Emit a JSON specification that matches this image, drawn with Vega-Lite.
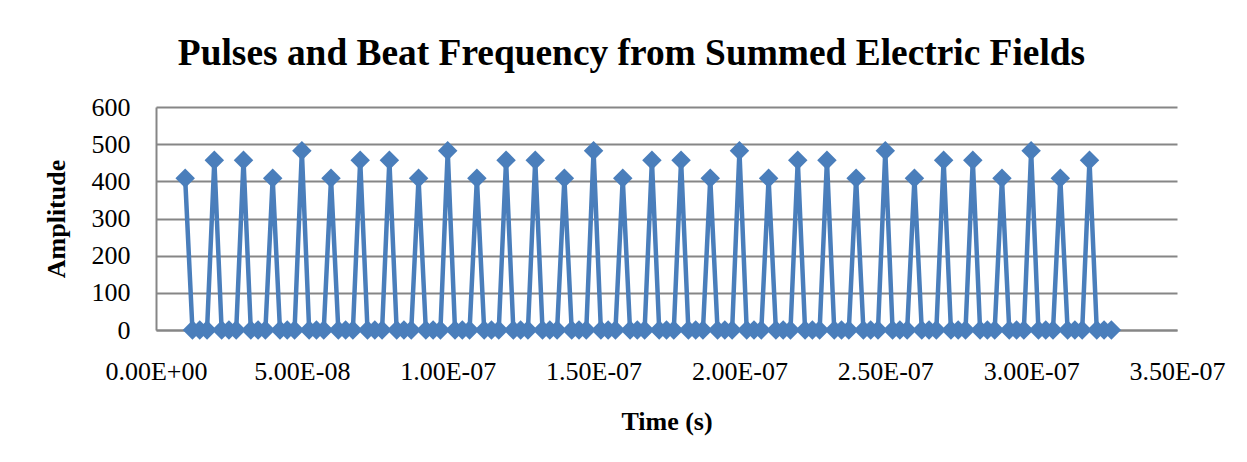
{
  "$schema": "https://vega.github.io/schema/vega-lite/v6.json",
  "width": 1021,
  "height": 223,
  "autosize": {"type": "none"},
  "padding": {"left": 156, "top": 107, "right": 70, "bottom": 132},
  "background": "white",
  "title": {
    "text": "Pulses and Beat Frequency from Summed Electric Fields",
    "font": "Liberation Serif",
    "fontSize": 37.4,
    "fontWeight": "bold",
    "color": "black",
    "anchor": "middle",
    "dx": -35,
    "dy": 50,
    "baseline": "alphabetic",
    "offset": 42
  },
  "config": {
    "view": {"stroke": null},
    "axis": {
      "labelFont": "Liberation Serif",
      "labelFontSize": 26,
      "labelColor": "black",
      "titleFont": "Liberation Serif",
      "titleFontSize": 26,
      "titleFontWeight": "bold",
      "titleColor": "black",
      "domainColor": "#868686",
      "domainWidth": 2,
      "gridColor": "#868686",
      "gridWidth": 2,
      "ticks": false
    }
  },
  "data": {
    "values": [
      {"t": 10e-9, "a": 408}, {"t": 12.5e-9, "a": 0}, {"t": 15e-9, "a": 0}, {"t": 17.5e-9, "a": 0},
      {"t": 20e-9, "a": 457}, {"t": 22.5e-9, "a": 0}, {"t": 25e-9, "a": 0}, {"t": 27.5e-9, "a": 0},
      {"t": 30e-9, "a": 457}, {"t": 32.5e-9, "a": 0}, {"t": 35e-9, "a": 0}, {"t": 37.5e-9, "a": 0},
      {"t": 40e-9, "a": 408}, {"t": 42.5e-9, "a": 0}, {"t": 45e-9, "a": 0}, {"t": 47.5e-9, "a": 0},
      {"t": 50e-9, "a": 482}, {"t": 52.5e-9, "a": 0}, {"t": 55e-9, "a": 0}, {"t": 57.5e-9, "a": 0},
      {"t": 60e-9, "a": 408}, {"t": 62.5e-9, "a": 0}, {"t": 65e-9, "a": 0}, {"t": 67.5e-9, "a": 0},
      {"t": 70e-9, "a": 457}, {"t": 72.5e-9, "a": 0}, {"t": 75e-9, "a": 0}, {"t": 77.5e-9, "a": 0},
      {"t": 80e-9, "a": 457}, {"t": 82.5e-9, "a": 0}, {"t": 85e-9, "a": 0}, {"t": 87.5e-9, "a": 0},
      {"t": 90e-9, "a": 408}, {"t": 92.5e-9, "a": 0}, {"t": 95e-9, "a": 0}, {"t": 97.5e-9, "a": 0},
      {"t": 100e-9, "a": 482}, {"t": 102.5e-9, "a": 0}, {"t": 105e-9, "a": 0}, {"t": 107.5e-9, "a": 0},
      {"t": 110e-9, "a": 408}, {"t": 112.5e-9, "a": 0}, {"t": 115e-9, "a": 0}, {"t": 117.5e-9, "a": 0},
      {"t": 120e-9, "a": 457}, {"t": 122.5e-9, "a": 0}, {"t": 125e-9, "a": 0}, {"t": 127.5e-9, "a": 0},
      {"t": 130e-9, "a": 457}, {"t": 132.5e-9, "a": 0}, {"t": 135e-9, "a": 0}, {"t": 137.5e-9, "a": 0},
      {"t": 140e-9, "a": 408}, {"t": 142.5e-9, "a": 0}, {"t": 145e-9, "a": 0}, {"t": 147.5e-9, "a": 0},
      {"t": 150e-9, "a": 482}, {"t": 152.5e-9, "a": 0}, {"t": 155e-9, "a": 0}, {"t": 157.5e-9, "a": 0},
      {"t": 160e-9, "a": 408}, {"t": 162.5e-9, "a": 0}, {"t": 165e-9, "a": 0}, {"t": 167.5e-9, "a": 0},
      {"t": 170e-9, "a": 457}, {"t": 172.5e-9, "a": 0}, {"t": 175e-9, "a": 0}, {"t": 177.5e-9, "a": 0},
      {"t": 180e-9, "a": 457}, {"t": 182.5e-9, "a": 0}, {"t": 185e-9, "a": 0}, {"t": 187.5e-9, "a": 0},
      {"t": 190e-9, "a": 408}, {"t": 192.5e-9, "a": 0}, {"t": 195e-9, "a": 0}, {"t": 197.5e-9, "a": 0},
      {"t": 200e-9, "a": 482}, {"t": 202.5e-9, "a": 0}, {"t": 205e-9, "a": 0}, {"t": 207.5e-9, "a": 0},
      {"t": 210e-9, "a": 408}, {"t": 212.5e-9, "a": 0}, {"t": 215e-9, "a": 0}, {"t": 217.5e-9, "a": 0},
      {"t": 220e-9, "a": 457}, {"t": 222.5e-9, "a": 0}, {"t": 225e-9, "a": 0}, {"t": 227.5e-9, "a": 0},
      {"t": 230e-9, "a": 457}, {"t": 232.5e-9, "a": 0}, {"t": 235e-9, "a": 0}, {"t": 237.5e-9, "a": 0},
      {"t": 240e-9, "a": 408}, {"t": 242.5e-9, "a": 0}, {"t": 245e-9, "a": 0}, {"t": 247.5e-9, "a": 0},
      {"t": 250e-9, "a": 482}, {"t": 252.5e-9, "a": 0}, {"t": 255e-9, "a": 0}, {"t": 257.5e-9, "a": 0},
      {"t": 260e-9, "a": 408}, {"t": 262.5e-9, "a": 0}, {"t": 265e-9, "a": 0}, {"t": 267.5e-9, "a": 0},
      {"t": 270e-9, "a": 457}, {"t": 272.5e-9, "a": 0}, {"t": 275e-9, "a": 0}, {"t": 277.5e-9, "a": 0},
      {"t": 280e-9, "a": 457}, {"t": 282.5e-9, "a": 0}, {"t": 285e-9, "a": 0}, {"t": 287.5e-9, "a": 0},
      {"t": 290e-9, "a": 408}, {"t": 292.5e-9, "a": 0}, {"t": 295e-9, "a": 0}, {"t": 297.5e-9, "a": 0},
      {"t": 300e-9, "a": 482}, {"t": 302.5e-9, "a": 0}, {"t": 305e-9, "a": 0}, {"t": 307.5e-9, "a": 0},
      {"t": 310e-9, "a": 408}, {"t": 312.5e-9, "a": 0}, {"t": 315e-9, "a": 0}, {"t": 317.5e-9, "a": 0},
      {"t": 320e-9, "a": 457}, {"t": 322.5e-9, "a": 0}, {"t": 325e-9, "a": 0}, {"t": 327.5e-9, "a": 0}
    ]
  },
  "mark": {
    "type": "line",
    "color": "#4A7EBB",
    "strokeWidth": 4.5,
    "point": {"shape": "diamond", "size": 380, "filled": true, "color": "#4A7EBB", "opacity": 1}
  },
  "encoding": {
    "x": {
      "field": "t",
      "type": "quantitative",
      "title": "Time (s)",
      "scale": {"domain": [0, 3.5e-7], "nice": false, "zero": false},
      "axis": {
        "values": [0, 5e-8, 1e-7, 1.5e-7, 2e-7, 2.5e-7, 3e-7, 3.5e-7],
        "labelExpr": "replace(replace(format(datum.value, '.2e'), 'e-', 'E-0'), 'e+', 'E+0')",
        "grid": false,
        "labelPadding": 28,
        "titlePadding": 24,
        "labelFlush": false,
        "labelOverlap": false
      }
    },
    "y": {
      "field": "a",
      "type": "quantitative",
      "title": "Amplitude",
      "scale": {"domain": [0, 600], "nice": false},
      "axis": {
        "values": [0, 100, 200, 300, 400, 500, 600],
        "grid": true,
        "labelPadding": 26,
        "titlePadding": 22
      }
    }
  }
}
